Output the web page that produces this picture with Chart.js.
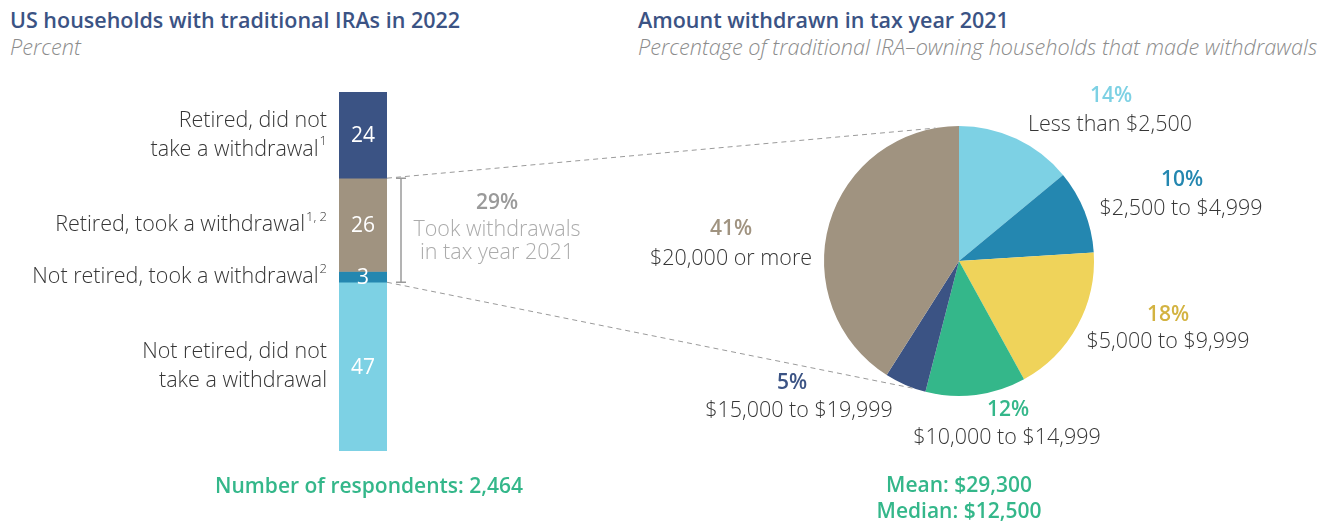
<!DOCTYPE html>
<html lang="en">
<head>
<meta charset="UTF-8">
<script src="https://cdn.jsdelivr.net/npm/chart.js"></script>
<title>Traditional IRA withdrawals</title>
<style>
    body { margin: 0; background: #fff; font-family: "Open Sans", sans-serif; }
    #wrap { position: relative; width: 1323px; height: 521px; overflow: hidden; }
    canvas.layer { position: absolute; left: 0; top: 0; }
    .title { position: absolute; color: #3b5384; font-size: 21.5px; font-weight: 600; line-height: 26px; white-space: nowrap; }
    .sub { position: absolute; color: #8c8c8c; font-size: 21.7px; font-style: italic; font-weight: 300; line-height: 26px; white-space: nowrap; }
    .note { position: absolute; color: #34b78a; font-size: 21px; font-weight: 600; line-height: 26px; text-align: center; white-space: nowrap; }
</style>
</head>
<body>
<div id="wrap">
    <div class="title" style="left:10px; top:7px;">US households with traditional IRAs in 2022</div>
    <div class="sub" style="left:10px; top:34px;">Percent</div>
    <div class="title" style="left:638px; top:7px;">Amount withdrawn in tax year 2021</div>
    <div class="sub" style="left:638px; top:34px;">Percentage of traditional IRA–owning households that made withdrawals</div>

    <canvas id="barChart" class="layer" width="1323" height="521"></canvas>
    <canvas id="pieChart" class="layer" width="1323" height="521"></canvas>

    <div class="note" style="left:215px; width:300px; top:472px;">Number of respondents: 2,464</div>
    <div class="note" style="left:809px; width:300px; top:471px;">Mean: $29,300<br>Median: $12,500</div>
</div>

<script>
// left: households, top to bottom of the bar
const barCategories = ['Retired, did not take a withdrawal', 'Retired, took a withdrawal', 'Not retired, took a withdrawal', 'Not retired, did not take a withdrawal'];
const barLabelLines = [['Retired, did not', 'take a withdrawal'], ['Retired, took a withdrawal'], ['Not retired, took a withdrawal'], ['Not retired, did not', 'take a withdrawal']];
const barFootnotes = ['1', '1, 2', '2', ''];
const barValues = [24, 26, 3, 47];
const barColors = ['#3b5384', '#a09380', '#2487b0', '#7dd1e4'];
const tookWithdrawals = 29;
const tookLabel = ['Took withdrawals', 'in tax year 2021'];

// right: amount withdrawn, clockwise from the top
const pieCategories = ['Less than $2,500', '$2,500 to $4,999', '$5,000 to $9,999', '$10,000 to $14,999', '$15,000 to $19,999', '$20,000 or more'];
const pieValues = [14, 10, 18, 12, 5, 41];
const pieColors = ['#7dd1e4', '#2487b0', '#efd35a', '#34b78a', '#3b5384', '#a09380'];
const pieTextColors = ['#7dd1e4', '#2487b0', '#d3b341', '#34b78a', '#3b5384', '#a09380'];

// label placement around the pie, relative to its centre
const pctOffsets = [[152, -165], [223, -81], [209, 54], [49, 149], [-167, 122], [-228, -32]];
const nameOffsets = [[151, -136], [222, -52], [209, 81], [48, 177], [-160, 150], [-228, -2]];

const FONT = '"Open Sans", sans-serif';
const TEXT = '#363636';

function drawWithSup(ctx, text, sup, x, y) {
    // right aligned text with a small superscript after it
    ctx.textAlign = 'right';
    let supW = 0;
    if (sup) {
        ctx.font = '300 13px ' + FONT;
        supW = ctx.measureText(sup).width + 1;
        ctx.fillText(sup, x, y - 8);
    }
    ctx.font = '300 21.5px ' + FONT;
    ctx.fillText(text, x - supW, y);
}

const barLabels = {
    id: 'barLabels',
    afterDatasetsDraw(chart) {
        const ctx = chart.ctx;
        const y = chart.scales.y;
        const area = chart.chartArea;
        ctx.save();
        ctx.textBaseline = 'middle';
        let start = 0;
        barValues.forEach((v, i) => {
            const mid = (y.getPixelForValue(start) + y.getPixelForValue(start + v)) / 2;
            start += v;
            // value inside the bar
            ctx.fillStyle = '#fff';
            ctx.font = '21px ' + FONT;
            ctx.textAlign = 'center';
            ctx.fillText(String(v), (area.left + area.right) / 2, mid + 1);
            // category on the left
            ctx.fillStyle = TEXT;
            const lines = barLabelLines[i];
            const lh = 29;
            lines.forEach((line, j) => {
                const ly = mid + (j - (lines.length - 1) / 2) * lh;
                drawWithSup(ctx, line, j === lines.length - 1 ? barFootnotes[i] : '', area.left - 12, ly);
            });
        });

        // bracket for the households that took withdrawals
        const top = y.getPixelForValue(barValues[0]);
        const bot = y.getPixelForValue(barValues[0] + barValues[1] + barValues[2]);
        const bx = area.right + 14;
        ctx.strokeStyle = '#9a9a9a';
        ctx.lineWidth = 1.5;
        ctx.beginPath();
        ctx.moveTo(bx, top); ctx.lineTo(bx, bot);
        ctx.moveTo(bx - 5, top); ctx.lineTo(bx + 5, top);
        ctx.moveTo(bx - 5, bot); ctx.lineTo(bx + 5, bot);
        ctx.stroke();

        const mid = (top + bot) / 2;
        ctx.textAlign = 'center';
        ctx.fillStyle = '#9a9a9a';
        ctx.font = '600 21px ' + FONT;
        ctx.fillText(tookWithdrawals + '%', bx + 96, mid - 27);
        ctx.fillStyle = '#ababab';
        ctx.font = '300 21.5px ' + FONT;
        ctx.fillText(tookLabel[0], bx + 96, mid);
        ctx.fillText(tookLabel[1], bx + 96, mid + 23);
        ctx.restore();
    }
};

const barChart = new Chart(document.getElementById('barChart'), {
    type: 'bar',
    data: {
        labels: ['Households'],
        datasets: barCategories.map((c, i) => ({
            label: c,
            data: [barValues[i]],
            backgroundColor: barColors[i],
            borderWidth: 0,
            barPercentage: 1,
            categoryPercentage: 1
        }))
    },
    options: {
        responsive: false,
        animation: false,
        layout: { padding: { left: 339, right: 1323 - 387, top: 92, bottom: 521 - 451 } },
        scales: {
            x: { stacked: true, display: false },
            y: { stacked: true, display: false, min: 0, max: 100, reverse: true }
        },
        plugins: { legend: { display: false }, tooltip: { enabled: false } }
    },
    plugins: [barLabels]
});

const pieLabels = {
    id: 'pieLabels',
    afterDatasetsDraw(chart) {
        const ctx = chart.ctx;
        const arcs = chart.getDatasetMeta(0).data;
        const cx = arcs[0].x, cy = arcs[0].y, r = arcs[0].outerRadius;
        ctx.save();
        ctx.textAlign = 'center';
        ctx.textBaseline = 'middle';
        pieValues.forEach((v, i) => {
            ctx.fillStyle = pieTextColors[i];
            ctx.font = '600 21px ' + FONT;
            ctx.fillText(v + '%', cx + pctOffsets[i][0], cy + pctOffsets[i][1]);
            ctx.fillStyle = TEXT;
            ctx.font = '300 21.5px ' + FONT;
            ctx.fillText(pieCategories[i], cx + nameOffsets[i][0], cy + nameOffsets[i][1]);
        });

        // dashed lines from the bar bracket to the pie
        const ys = barChart.scales.y;
        const x0 = barChart.chartArea.right;
        const y1 = ys.getPixelForValue(barValues[0]);
        const y2 = ys.getPixelForValue(barValues[0] + barValues[1] + barValues[2]);
        const onPie = deg => {
            const a = (deg - 90) * Math.PI / 180;
            return [cx + r * Math.cos(a), cy + r * Math.sin(a)];
        };
        const p1 = onPie(-10), p2 = onPie(199);
        ctx.strokeStyle = '#9a9a9a';
        ctx.lineWidth = 1;
        ctx.setLineDash([5, 4]);
        ctx.beginPath();
        ctx.moveTo(x0, y1); ctx.lineTo(p1[0], p1[1]);
        ctx.moveTo(x0, y2); ctx.lineTo(p2[0], p2[1]);
        ctx.stroke();
        ctx.restore();
    }
};

new Chart(document.getElementById('pieChart'), {
    type: 'pie',
    data: {
        labels: pieCategories,
        datasets: [{
            data: pieValues,
            backgroundColor: pieColors,
            borderWidth: 0
        }]
    },
    options: {
        responsive: false,
        animation: false,
        layout: { padding: { left: 824, right: 1323 - 1094, top: 126, bottom: 521 - 396 } },
        plugins: { legend: { display: false }, tooltip: { enabled: false } }
    },
    plugins: [pieLabels]
});
</script>
</body>
</html>
